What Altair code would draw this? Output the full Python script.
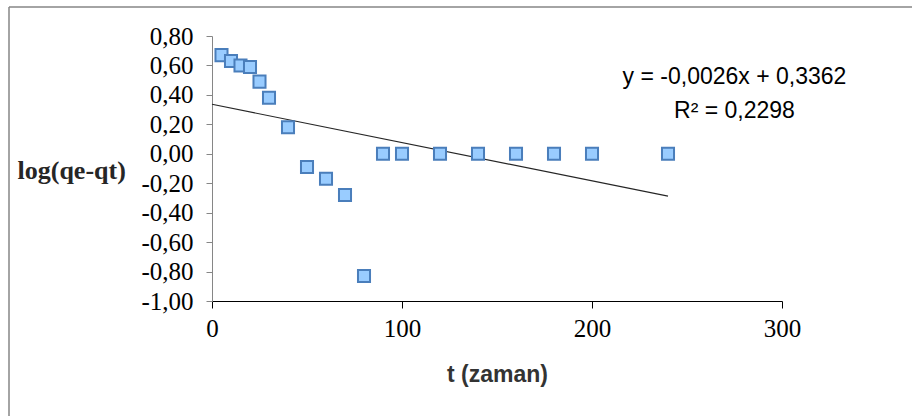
import altair as alt
import pandas as pd

# Data
t_values = [5, 10, 15, 20, 25, 30, 40, 50, 60, 70, 80, 90, 100, 120, 140, 160, 180, 200, 240]
log_values = [0.67, 0.63, 0.60, 0.59, 0.49, 0.38, 0.18, -0.09, -0.17, -0.28, -0.83,
              0.00, 0.00, 0.00, 0.00, 0.00, 0.00, 0.00, 0.00]

# Linear trendline (Excel) y = -0.0026x + 0.3362 over the data range
slope = -0.0026
intercept = 0.3362
trend_x = [0, 240]

# Annotation text and anchor (data coordinates)
eq_lines = ["y = -0,0026x + 0,3362", "R² = 0,2298"]
eq_x = [275, 275]
eq_y = [0.473, 0.242]

y_ticks = [0.8, 0.6, 0.4, 0.2, 0.0, -0.2, -0.4, -0.6, -0.8, -1.0]
x_ticks = [0, 100, 200, 300]

pts = pd.DataFrame({"t": t_values, "v": log_values})
trend = pd.DataFrame({"t": trend_x, "v": [intercept + slope * x for x in trend_x]})
ann = pd.DataFrame({"t": eq_x, "v": eq_y, "txt": eq_lines})

label_expr = "replace(replace(format(datum.value, '.2f'), '.', ','), '\u2212', '-')"

x_scale = alt.Scale(domain=[0, 300], nice=False, zero=False)
y_scale = alt.Scale(domain=[-1.0, 0.8], nice=False, zero=False)

x_axis = alt.Axis(
    values=x_ticks, title="t (zaman)", grid=False, labelFlush=False, labelOverlap=False,
    labelFont="Liberation Serif", labelFontSize=25, labelColor="#000000",
    labelPadding=8, tickSize=7, tickColor="#000000", domainColor="#000000",
    titleFont="Liberation Sans", titleFontSize=23, titleFontWeight="bold",
    titleColor="#333333", titleY=80, titleBaseline="alphabetic",
)
y_axis = alt.Axis(
    values=y_ticks, labelExpr=label_expr, title="log(qe-qt)", grid=False,
    labelFlush=False, labelOverlap=False, labelBound=False, tickCount=10,
    labelFont="Liberation Serif", labelFontSize=25, labelColor="#000000",
    labelPadding=13, tickSize=6, tickColor="#868686", domainColor="#868686",
    titleFont="Liberation Serif", titleFontSize=26, titleFontWeight="bold",
    titleColor="#262626", titleAngle=0, titleAlign="left", titleBaseline="alphabetic",
    titleX=-195, titleY=142,
)

X = alt.X("t:Q", scale=x_scale, axis=x_axis)
Y = alt.Y("v:Q", scale=y_scale, axis=y_axis)

points = alt.Chart(pts).mark_point(
    shape="square", filled=True, size=145, fill="#99CCFF", stroke="#4A7EBB",
    strokeWidth=2, opacity=1,
).encode(x=X, y=Y)

line = alt.Chart(trend).mark_line(color="#262626", strokeWidth=1.2).encode(x=X, y=Y)

text = alt.Chart(ann).mark_text(
    font="Liberation Sans", fontSize=23, color="#000000", align="center",
    baseline="alphabetic",
).encode(x=X, y=Y, text="txt:N")

frame_top = alt.Chart(pd.DataFrame({"a": [0]})).mark_rule(
    color="#868686", strokeWidth=1.5
).encode(x=alt.value(-203), x2=alt.value(720), y=alt.value(-29))
frame_left = alt.Chart(pd.DataFrame({"a": [0]})).mark_rule(
    color="#868686", strokeWidth=1.5
).encode(x=alt.value(-203), y=alt.value(-29), y2=alt.value(400))

chart = alt.layer(line, points, text, frame_top, frame_left).properties(
    width=570, height=265,
    autosize=alt.AutoSizeParams(type="none"),
    padding={"left": 212, "top": 36, "right": 130, "bottom": 115},
    background="#ffffff",
).configure_view(stroke=None)

chart.save("out.html", embed_options={"renderer": "svg", "actions": False})
